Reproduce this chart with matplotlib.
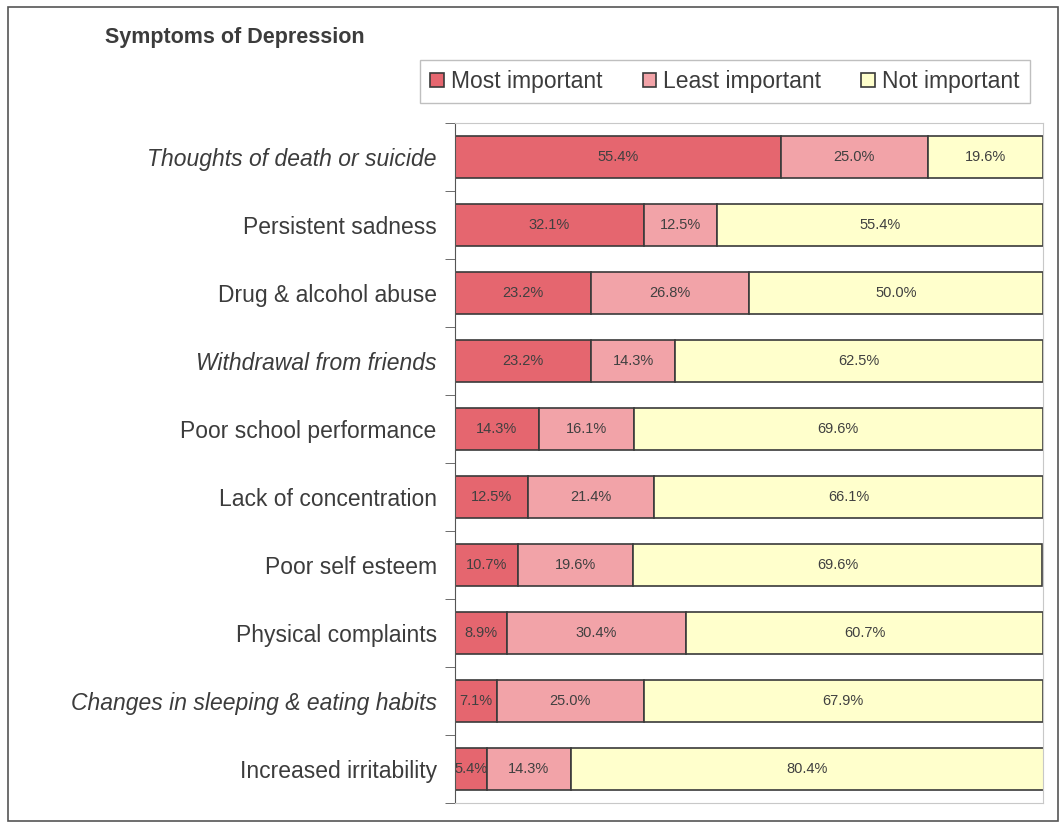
import numpy as np
import matplotlib
matplotlib.use("Agg")
import matplotlib.pyplot as plt
from matplotlib.patches import Rectangle

categories = [
    "Thoughts of death or suicide",
    "Persistent sadness",
    "Drug & alcohol abuse",
    "Withdrawal from friends",
    "Poor school performance",
    "Lack of concentration",
    "Poor self esteem",
    "Physical complaints",
    "Changes in sleeping & eating habits",
    "Increased irritability",
]
italic_labels = [
    "Thoughts of death or suicide",
    "Withdrawal from friends",
    "Changes in sleeping & eating habits",
]
most = [55.4, 32.1, 23.2, 23.2, 14.3, 12.5, 10.7, 8.9, 7.1, 5.4]
least = [25.0, 12.5, 26.8, 14.3, 16.1, 21.4, 19.6, 30.4, 25.0, 14.3]
not_imp = [19.6, 55.4, 50.0, 62.5, 69.6, 66.1, 69.6, 60.7, 67.9, 80.4]
series_names = ["Most important", "Least important", "Not important"]
colors = ["#e5666f", "#f2a3a8", "#ffffcc"]

plt.rcParams["font.family"] = ["Liberation Sans", "DejaVu Sans"]

fig = plt.figure(figsize=(10.6, 8.32), dpi=100)
ax = fig.add_axes([0.429, 0.035, 0.555, 0.817])

y = np.arange(len(categories))
left = np.zeros(len(categories))
for vals, name, col in zip([most, least, not_imp], series_names, colors):
    vals = np.array(vals)
    bars = ax.barh(y, vals, left=left, height=0.62, color=col,
                   edgecolor="#3a3a3a", linewidth=1.2, label=name)
    for b, v in zip(bars, vals):
        ax.text(b.get_x() + b.get_width() / 2, b.get_y() + b.get_height() / 2,
                f"{v:.1f}%", ha="center", va="center", fontsize=10.5,
                color="#404040")
    left += vals

ax.set_xlim(0, 100)
ax.set_ylim(len(categories) - 0.5, -0.5)
ax.set_yticks(y)
ax.set_yticklabels(categories, fontsize=16.5, color="#3c3c3c")
for lab in ax.get_yticklabels():
    if lab.get_text() in italic_labels:
        lab.set_style("italic")
ax.set_yticks(np.arange(-0.5, len(categories), 1), minor=True)
ax.tick_params(axis="y", which="major", length=0, pad=13)
ax.tick_params(axis="y", which="minor", length=7, color="#555555")
ax.set_xticks([])
for s in ["top", "right", "bottom"]:
    ax.spines[s].set_color("#c8c8c8")
ax.spines["left"].set_color("#555555")

fig.text(0.099, 0.955, "Symptoms of Depression", fontsize=15.5, fontweight="bold",
         color="#3c3c3c", va="center")

leg = fig.legend(loc="center", bbox_to_anchor=(0.684, 0.902), ncol=3,
                 fontsize=16.5, frameon=True, fancybox=False, edgecolor="#b0b0b0",
                 handlelength=0.6, handleheight=0.6, handletextpad=0.3,
                 columnspacing=1.75, borderpad=0.45)
for t in leg.get_texts():
    t.set_color("#3c3c3c")

fig.patches.append(Rectangle((0.008, 0.013), 0.99, 0.978, transform=fig.transFigure,
                             fill=False, edgecolor="#555555", linewidth=1.2))

fig.savefig("out.png", dpi=100)
